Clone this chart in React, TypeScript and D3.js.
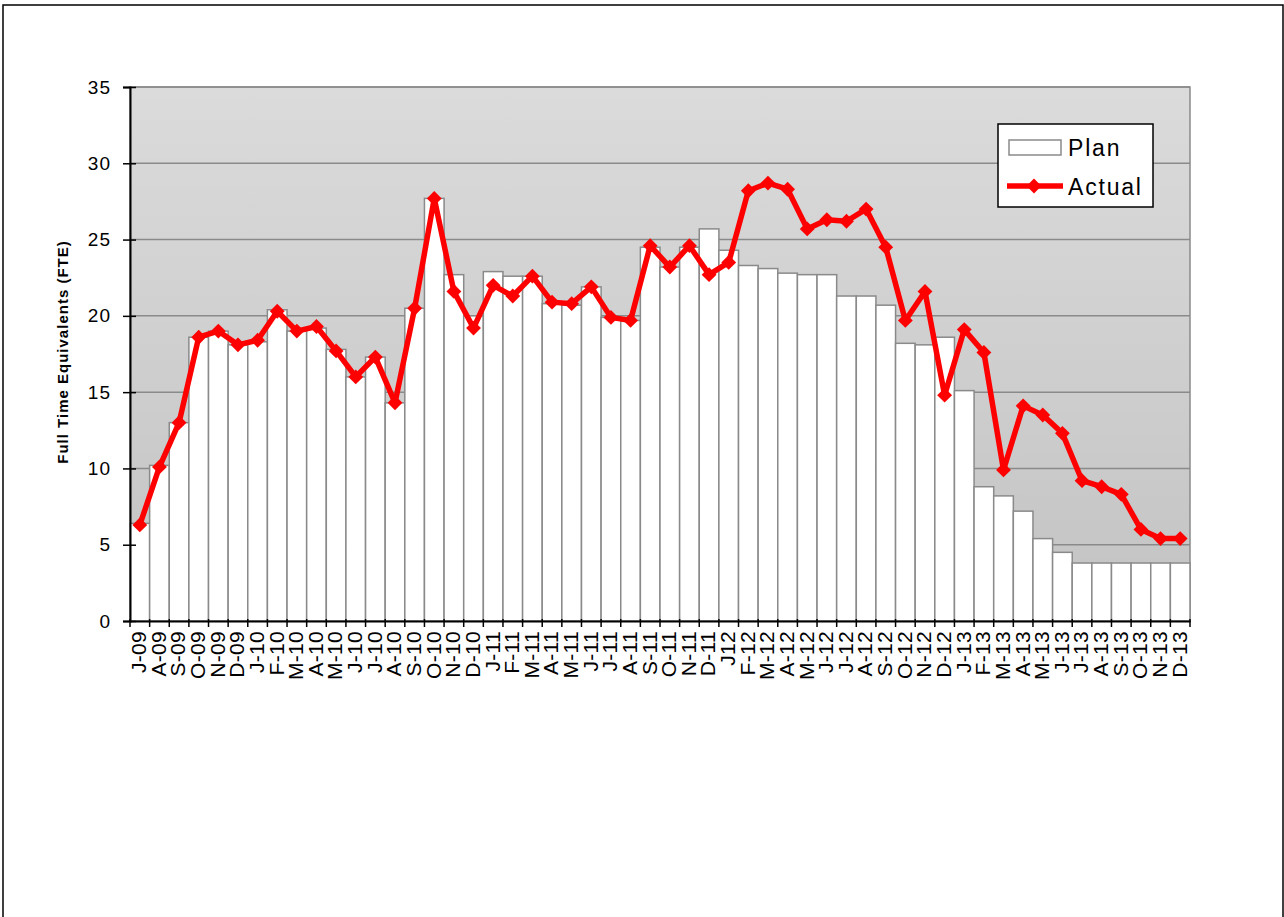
import React, { useEffect, useRef } from 'react'
import * as d3 from 'd3'

const months = [
  'J-09', 'A-09', 'S-09', 'O-09', 'N-09', 'D-09',
  'J-10', 'F-10', 'M-10', 'A-10', 'M-10', 'J-10', 'J-10', 'A-10', 'S-10', 'O-10', 'N-10', 'D-10',
  'J-11', 'F-11', 'M-11', 'A-11', 'M-11', 'J-11', 'J-11', 'A-11', 'S-11', 'O-11', 'N-11', 'D-11',
  'J12', 'F-12', 'M-12', 'A-12', 'M-12', 'J-12', 'J-12', 'A-12', 'S-12', 'O-12', 'N-12', 'D-12',
  'J-13', 'F-13', 'M-13', 'A-13', 'M-13', 'J-13', 'J-13', 'A-13', 'S-13', 'O-13', 'N-13', 'D-13',
]

const plan = [
  6.4, 10.2, 13.0, 18.6, 19.0, 18.1,
  18.3, 20.4, 19.0, 19.2, 17.8, 16.0, 17.3, 14.3, 20.5, 27.7, 22.7, 20.0,
  22.9, 22.6, 22.6, 20.8, 20.7, 21.9, 19.9, 19.7, 24.5, 23.2, 24.5, 25.7,
  24.3, 23.3, 23.1, 22.8, 22.7, 22.7, 21.3, 21.3, 20.7, 18.2, 18.1, 18.6,
  15.1, 8.8, 8.2, 7.2, 5.4, 4.5, 3.8, 3.8, 3.8, 3.8, 3.8, 3.8,
]

const actual = [
  6.3, 10.1, 13.0, 18.6, 19.0, 18.1,
  18.4, 20.3, 19.0, 19.3, 17.7, 16.0, 17.3, 14.3, 20.5, 27.7, 21.6, 19.2,
  22.0, 21.3, 22.6, 20.9, 20.8, 21.9, 19.9, 19.7, 24.6, 23.2, 24.6, 22.7,
  23.5, 28.2, 28.7, 28.3, 25.7, 26.3, 26.2, 27.0, 24.5, 19.7, 21.6, 14.8,
  19.1, 17.6, 9.9, 14.1, 13.5, 12.3, 9.2, 8.8, 8.3, 6.0, 5.4, 5.4,
]

const yTicks = [0, 5, 10, 15, 20, 25, 30, 35]
const seriesNames = ['Plan', 'Actual']

function App() {
  const chart = useRef<SVGSVGElement>(null)

  useEffect(() => {
    const w = 1284
    const h = 917
    const left = 130
    const right = 1190
    const top = 87
    const bottom = 621
    const font = 'Arial, "Liberation Sans", sans-serif'

    const svg = d3.select(chart.current)
    svg.selectAll('*').remove()
    svg.attr('width', w).attr('height', h)

    // outer frame
    svg.append('rect')
      .attr('x', 3).attr('y', 5)
      .attr('width', w - 4).attr('height', h)
      .attr('fill', 'white')
      .attr('stroke', 'black')
      .attr('stroke-width', 1.5)

    // plot background gradient
    const grad = svg.append('defs').append('linearGradient')
      .attr('id', 'bg').attr('x1', 0).attr('y1', 0).attr('x2', 0).attr('y2', 1)
    grad.append('stop').attr('offset', '0%').attr('stop-color', '#dbdbdb')
    grad.append('stop').attr('offset', '100%').attr('stop-color', '#c3c3c3')

    const x = d3.scaleBand<number>()
      .domain(months.map((_, i) => i))
      .range([left, right])
      .padding(0)

    const y = d3.scaleLinear().domain([0, 35]).range([bottom, top])

    svg.append('rect')
      .attr('x', left).attr('y', top)
      .attr('width', right - left).attr('height', bottom - top)
      .attr('fill', 'url(#bg)')
      .attr('stroke', '#8a8a8a')
      .attr('stroke-width', 1.5)

    // grid
    svg.append('g')
      .selectAll('line')
      .data(yTicks.slice(1))
      .join('line')
      .attr('x1', left).attr('x2', right)
      .attr('y1', d => y(d)).attr('y2', d => y(d))
      .attr('stroke', '#8a8a8a')
      .attr('stroke-width', 1.5)

    // PLAN bars
    svg.append('g')
      .selectAll('rect')
      .data(plan)
      .join('rect')
      .attr('x', (d, i) => x(i)!)
      .attr('y', d => y(d))
      .attr('width', x.bandwidth())
      .attr('height', d => y(0) - y(d))
      .attr('fill', 'white')
      .attr('stroke', '#8a8a8a')
      .attr('stroke-width', 1.5)

    // ACTUAL line
    const cx = (i: number) => x(i)! + x.bandwidth() / 2
    const line = d3.line<number>()
      .x((d, i) => cx(i))
      .y(d => y(d))
    svg.append('path')
      .attr('d', line(actual))
      .attr('fill', 'none')
      .attr('stroke', '#ff0000')
      .attr('stroke-width', 5.5)
      .attr('stroke-linejoin', 'round')

    const diamond = d3.symbol().type(d3.symbolSquare).size(110)
    svg.append('g')
      .selectAll('path')
      .data(actual)
      .join('path')
      .attr('d', diamond)
      .attr('transform', (d, i) => `translate(${cx(i)},${y(d)}) rotate(45)`)
      .attr('fill', '#ff0000')

    // Y axis
    const yAxis = svg.append('g')
      .attr('transform', `translate(${left},0)`)
      .call(d3.axisLeft(y).tickValues(yTicks).tickSize(7).tickPadding(12))
    yAxis.select('.domain').attr('stroke', 'black').attr('stroke-width', 2)
    yAxis.selectAll('.tick line').attr('stroke', 'black').attr('stroke-width', 1.5)
      .attr('x2', -7).attr('x1', 6)
    yAxis.selectAll('.tick text')
      .attr('font-family', font).attr('font-size', 19)
      .attr('letter-spacing', 1).attr('fill', 'black')

    // X axis
    const xAxis = svg.append('g')
      .attr('transform', `translate(0,${bottom})`)
      .call(d3.axisBottom(x).tickSize(0).tickFormat(i => months[i as number]))
    xAxis.select('.domain').attr('stroke', 'black').attr('stroke-width', 2)
    xAxis.selectAll('.tick text')
      .attr('font-family', font).attr('font-size', 21)
      .attr('letter-spacing', 0.3).attr('fill', 'black')
      .attr('text-anchor', 'end')
      .attr('transform', 'rotate(-90)')
      .attr('x', -10).attr('y', -1).attr('dy', '0.35em')

    // x tick marks between categories
    svg.append('g')
      .selectAll('line')
      .data(d3.range(months.length + 1))
      .join('line')
      .attr('x1', i => left + i * x.step()).attr('x2', i => left + i * x.step())
      .attr('y1', bottom - 2).attr('y2', bottom + 6)
      .attr('stroke', 'black').attr('stroke-width', 1.5)

    // Y axis title
    svg.append('text')
      .text('Full Time Equivalents (FTE)')
      .attr('transform', `translate(68,${(top + bottom) / 2 - 2}) rotate(-90)`)
      .attr('text-anchor', 'middle')
      .attr('font-family', font)
      .attr('font-size', 15)
      .attr('font-weight', 'bold')
      .attr('letter-spacing', 1)

    // LEGEND
    const lg = svg.append('g').attr('transform', 'translate(998,124)')
    lg.append('rect')
      .attr('width', 155).attr('height', 83)
      .attr('fill', 'white').attr('stroke', 'black').attr('stroke-width', 1.5)
    lg.append('rect')
      .attr('x', 11).attr('y', 16).attr('width', 52).attr('height', 15)
      .attr('fill', 'white').attr('stroke', '#8a8a8a').attr('stroke-width', 1.5)
    lg.append('line')
      .attr('x1', 9).attr('x2', 65).attr('y1', 62).attr('y2', 62)
      .attr('stroke', '#ff0000').attr('stroke-width', 5.5)
    lg.append('path')
      .attr('d', diamond)
      .attr('transform', 'translate(36,62) rotate(45)')
      .attr('fill', '#ff0000')
    lg.selectAll('text.lbl')
      .data(seriesNames)
      .join('text')
      .attr('class', 'lbl')
      .text(d => d)
      .attr('x', 70)
      .attr('y', (d, i) => 32 + i * 39)
      .attr('font-family', font)
      .attr('font-size', 23)
      .attr('letter-spacing', 1.8)
  }, [])

  return (
    <div style={{ position: 'absolute', left: 0, top: 0 }}>
      <svg ref={chart} style={{ display: 'block' }}></svg>
    </div>
  )
}

export default App
